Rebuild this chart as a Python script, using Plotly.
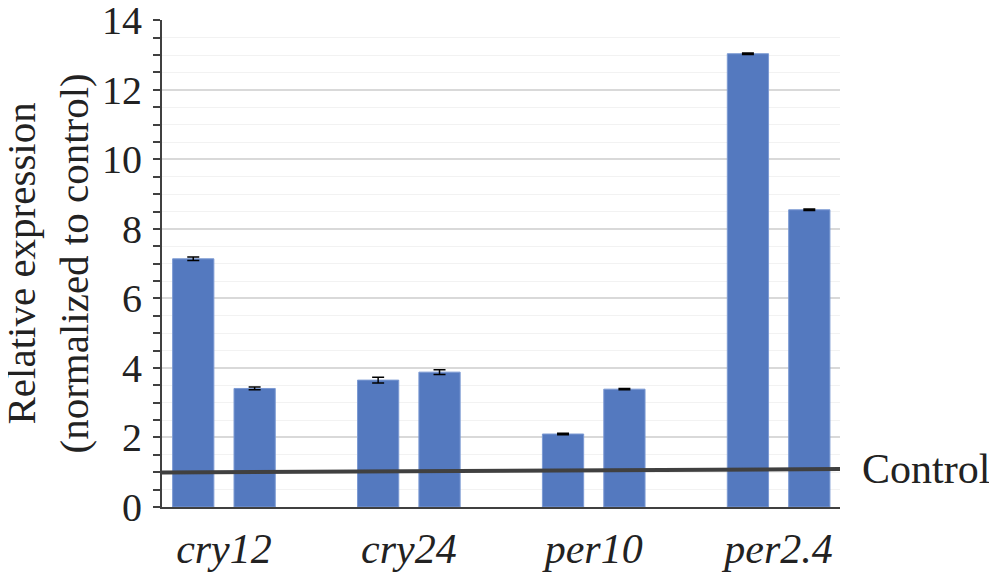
import plotly.graph_objects as go

# data
genes = ["cry12", "cry24", "per10", "per2.4"]
series_a = [7.14, 3.65, 2.10, 13.04]
series_a_err = [0.05, 0.08, 0.02, 0.02]
series_b = [3.41, 3.88, 3.39, 8.55]
series_b_err = [0.04, 0.07, 0.02, 0.02]
control_level = [0.99, 1.09]  # control line, left end -> right end

bar_color = "#5479BF"
axis_color = "#404040"
font_family = "Liberation Serif, Times New Roman, Times, serif"

fig = go.Figure()
for vals, errs in [(series_a, series_a_err), (series_b, series_b_err)]:
    fig.add_trace(go.Bar(
        x=genes, y=vals,
        marker=dict(color=bar_color, line=dict(color="#7C9AD3", width=1)),
        error_y=dict(type="data", array=errs, color="black", thickness=1.5, width=6),
        showlegend=False,
    ))

# control reference line across the whole plot area
fig.add_trace(go.Scatter(
    x=[0, 1], y=control_level, xaxis="x2", mode="lines",
    line=dict(color=axis_color, width=4), showlegend=False, hoverinfo="skip",
))

fig.add_annotation(
    text="Control", xref="paper", yref="y", x=1, y=control_level[1],
    xanchor="left", yanchor="middle", xshift=20, showarrow=False,
    font=dict(family=font_family, size=42, color="#222"),
)

# y axis title as a rotated annotation so it can be placed exactly
fig.add_annotation(
    text="Relative expression<br>(normalized to control)", textangle=-90,
    xref="paper", yref="paper", x=0, y=0.5, xanchor="center", yanchor="middle",
    xshift=-115, showarrow=False,
    font=dict(family=font_family, size=41, color="#222"),
)

# the page has an 8px body margin, so the margins are shifted to compensate
fig.update_layout(
    template="none",
    width=997, height=573,
    margin=dict(l=154, r=165, t=12, b=74),
    plot_bgcolor="white", paper_bgcolor="white",
    barmode="group", bargap=0.336, bargroupgap=0.328,
    font=dict(family=font_family, size=40, color="#222"),
    xaxis=dict(
        type="category", range=[-0.335, 3.332], automargin=False,
        tickvals=genes, ticktext=["<i>%s</i>" % g for g in genes],
        tickfont=dict(family=font_family, size=42),
        showline=True, linecolor=axis_color, linewidth=2,
        ticks="", showgrid=False, ticklabelstandoff=4,
    ),
    xaxis2=dict(overlaying="x", range=[0, 1], visible=False),
    yaxis=dict(
        range=[0, 14.01], tickvals=[0, 2, 4, 6, 8, 10, 12, 14], automargin=False,
        tickfont=dict(family=font_family, size=40), ticklabeloverflow="allow",
        showline=True, linecolor=axis_color, linewidth=2,
        ticks="outside", ticklen=7, tickcolor=axis_color, tickwidth=1.5,
        showgrid=True, gridcolor="#D9D9D9", gridwidth=1.5, zeroline=False,
        ticklabelstandoff=3,
        minor=dict(dtick=0.5, ticks="outside", ticklen=7, tickcolor=axis_color,
                   showgrid=True, gridcolor="#F2F2F2", gridwidth=1),
    ),
)

fig.write_html("out.html")
